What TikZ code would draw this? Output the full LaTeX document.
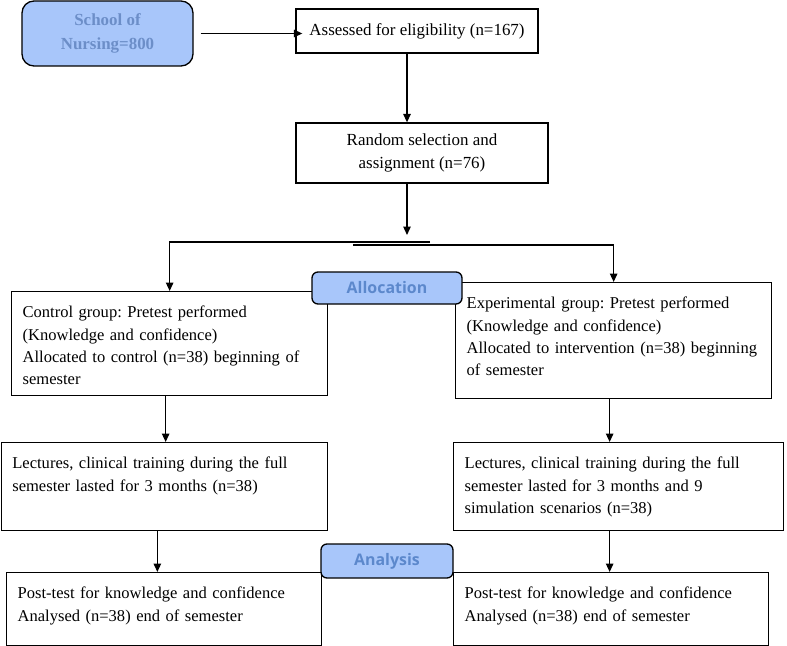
\documentclass[tikz,border=0pt]{standalone}
\usepackage{fontspec}
\setmainfont{Liberation Serif}
\newfontfamily\stagefont{Open Sans}
\usetikzlibrary{arrows.meta}
\frenchspacing
\hyphenpenalty=10000
\hbadness=10000
\hfuzz=20pt

\definecolor{stageblue}{RGB}{168,198,250}
\definecolor{stagetext}{RGB}{92,136,204}
\definecolor{schooltext}{RGB}{108,142,200}

\tikzset{
  flowbox/.style={draw, line width=1.3bp, fill=white, align=center,
    font=\fontsize{17}{22.5}\selectfont},
  grpbox/.style={draw, line width=1.3bp, fill=white, align=left, anchor=north west,
    inner xsep=11bp, inner ysep=9bp, text height=17bp,
    font=\fontsize{16.6}{22.5}\selectfont},
  stage/.style={draw, line width=1.3bp, rounded corners=6bp, fill=stageblue,
    text=stagetext, inner sep=0pt, font=\stagefont\bfseries\fontsize{16}{19}\selectfont},
  arr/.style={line width=1.3bp, -{Triangle[length=8.5bp,width=7.5bp]}},
}

\begin{document}
\begin{tikzpicture}[x=1bp,y=-1bp]
  \useasboundingbox (0,0) rectangle (787,646);

  % top of the flow
  \node[draw, line width=1.3bp, rounded corners=12bp, fill=stageblue, text=schooltext,
    minimum width=171bp, minimum height=65bp, align=center,
    font=\bfseries\fontsize{17}{24}\selectfont] (school) at (107.5,33.5) {School of\\Nursing=800};
  \node[flowbox, minimum width=242bp, minimum height=44bp] (assess) at (417,31) {Assessed for eligibility (n=167)};
  \node[flowbox, minimum width=252bp, minimum height=60bp] (random) at (422,153) {Random selection and\\assignment (n=76)};

  % the two groups
  \node[grpbox, text width=294bp, text depth=69bp] (control) at (11,291)
    {Control group: Pretest performed\\(Knowledge and confidence)\\Allocated to control (n=38) beginning of\\semester};
  \node[grpbox, text width=294bp, text depth=81bp] (exp) at (455,282)
    {Experimental group: Pretest performed\\(Knowledge and confidence)\\Allocated to intervention (n=38) beginning\\of semester};
  \node[grpbox, text width=304bp, text depth=53bp] (lecL) at (0.7,442)
    {Lectures, clinical training during the full\\semester lasted for 3 months (n=38)};
  \node[grpbox, text width=308bp, text depth=53bp] (lecR) at (453,442)
    {Lectures, clinical training during the full\\semester lasted for 3 months and 9\\simulation scenarios (n=38)};
  \node[grpbox, text width=293bp, text depth=38bp] (postL) at (6,572)
    {Post-test for knowledge and confidence\\Analysed (n=38) end of semester};
  \node[grpbox, text width=293bp, text depth=38bp] (postR) at (453,572)
    {Post-test for knowledge and confidence\\Analysed (n=38) end of semester};

  % connectors
  \coordinate (split) at (407,235);
  \coordinate (lbar) at (430,242);
  \coordinate (rbar) at (353,245);
  \draw[arr] ([xshift=7bp]school.east) -- ([xshift=7bp]school.east -| assess.west);
  \draw[arr] (assess.south -| split) -- (random.north -| split);
  \draw[arr] (random.south -| split) -- (split);
  \draw[arr] (lbar) -| (control.north);
  \draw[arr] (rbar) -| (exp.north);
  \draw[arr] ([xshift=-4bp]control.south) -- ([xshift=-4bp]control.south |- lecL.north);
  \draw[arr] ([xshift=-7bp]lecL.south) -- ([xshift=-7bp]lecL.south |- postL.north);
  \draw[arr] ([xshift=-4bp]exp.south) -- ([xshift=-4bp]exp.south |- lecR.north);
  \draw[arr] ([xshift=-9bp]lecR.south) -- ([xshift=-9bp]lecR.south |- postR.north);

  % stage labels
  \node[stage, minimum width=150bp, minimum height=32bp] (alloc) at (387,288) {Allocation};
  \node[stage, minimum width=132bp, minimum height=34bp] (analysis) at (387,561) {Analysis};
\end{tikzpicture}
\end{document}
